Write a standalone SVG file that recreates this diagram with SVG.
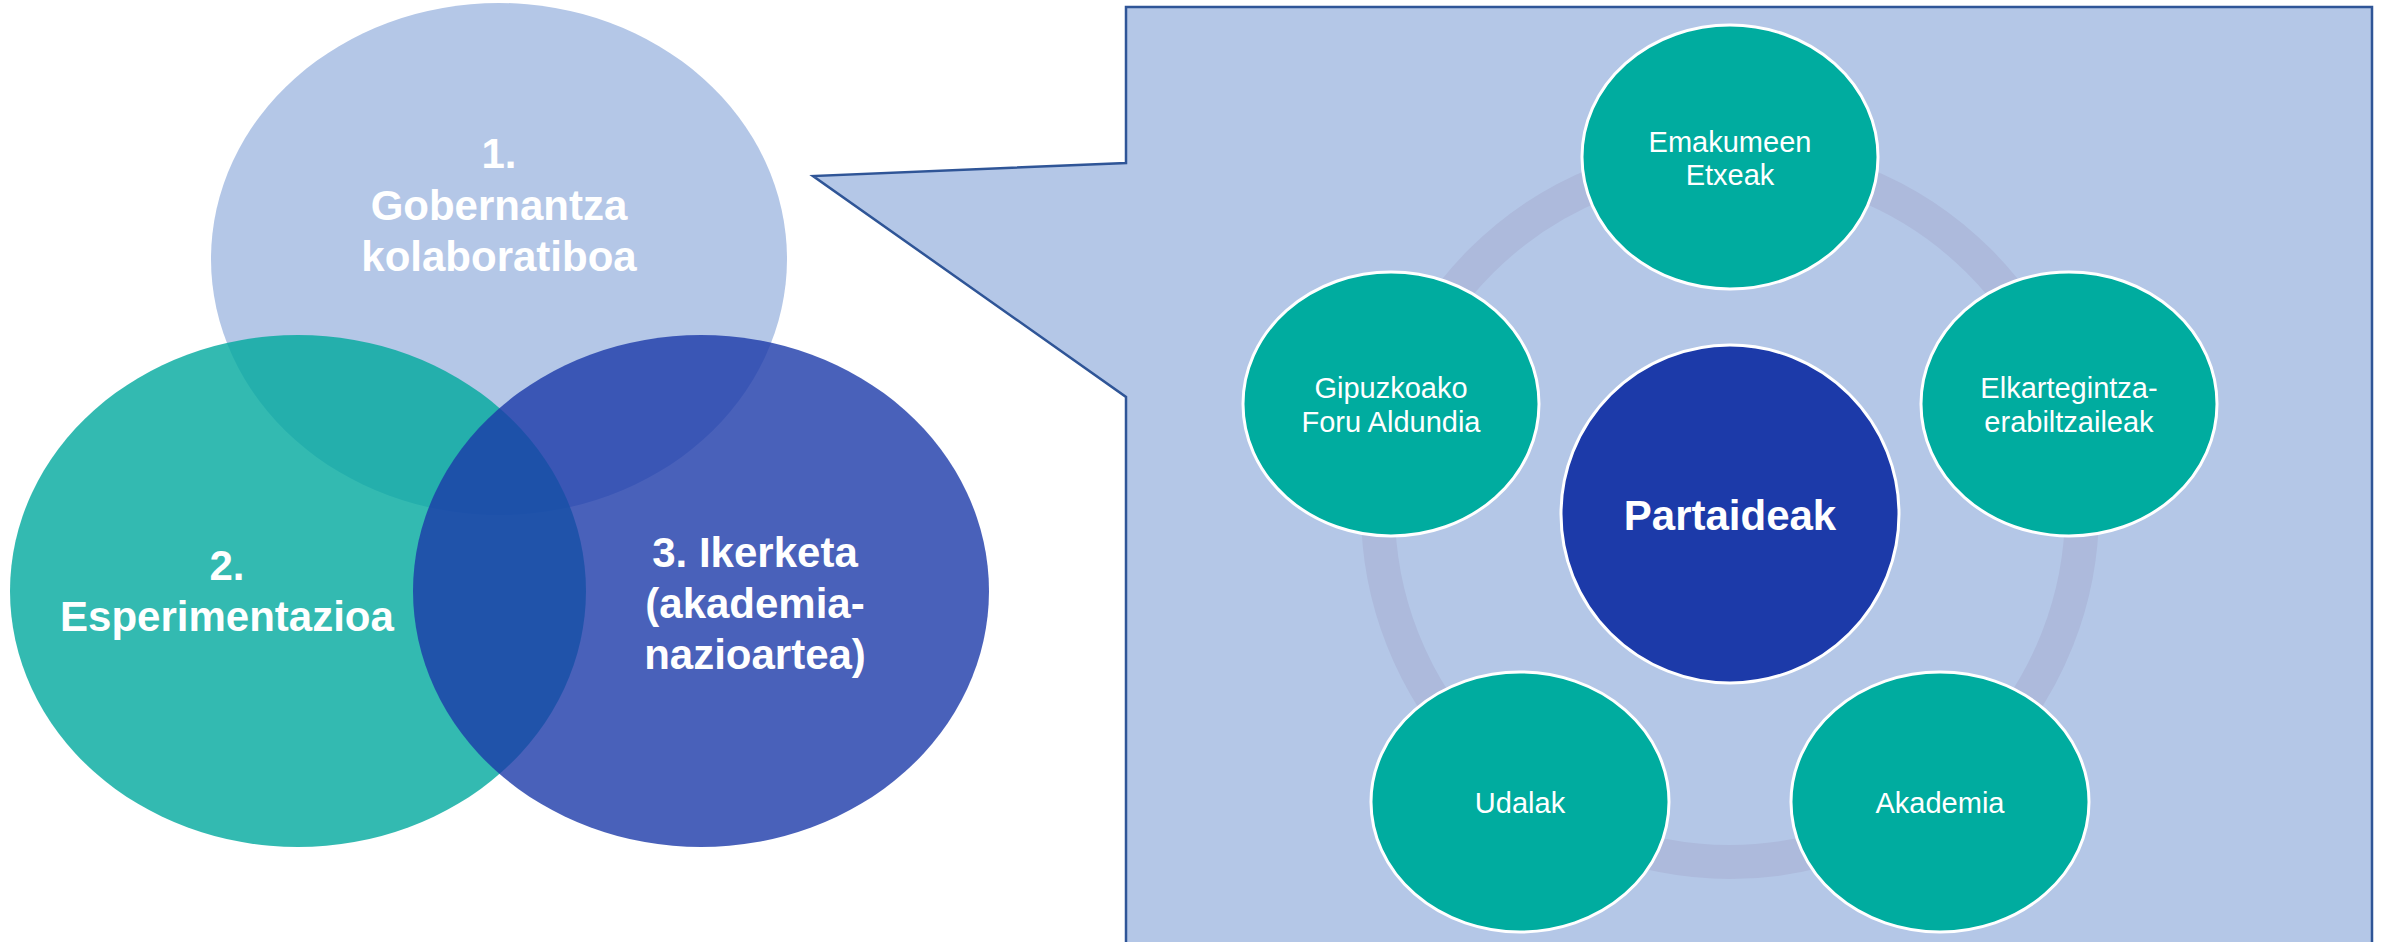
<svg xmlns="http://www.w3.org/2000/svg" width="2384" height="942" viewBox="0 0 2384 942">
<style>
.venn{font-family:"Liberation Sans",Arial,sans-serif;font-weight:bold;font-size:42px;fill:#ffffff;text-anchor:middle}
.sat{fill:#00AC9F;stroke:#ffffff;stroke-width:3}
.satt{font-family:"Liberation Sans",Arial,sans-serif;font-size:29px;fill:#ffffff;text-anchor:middle}
.ctr{font-family:"Liberation Sans",Arial,sans-serif;font-weight:bold;font-size:42px;fill:#ffffff;text-anchor:middle}
</style>
<rect width="2384" height="942" fill="#ffffff"/>
<g id="venn">
  <g id="v1"><ellipse cx="499" cy="259" rx="288" ry="256" fill="#B4C7E7"/></g>
  <g id="v2"><ellipse cx="298" cy="591" rx="288" ry="256" fill="#00A99D" fill-opacity="0.8"/></g>
  <g id="v3"><ellipse cx="701" cy="591" rx="288" ry="256" fill="#1C3AA9" fill-opacity="0.8"/></g>
  <text class="venn"><tspan x="499" y="168">1.</tspan><tspan x="499" y="220">Gobernantza</tspan><tspan x="499" y="271">kolaboratiboa</tspan></text>
  <text class="venn"><tspan x="227" y="580">2.</tspan><tspan x="227" y="631">Esperimentazioa</tspan></text>
  <text class="venn"><tspan x="755" y="567">3. Ikerketa</tspan><tspan x="755" y="618">(akademia-</tspan><tspan x="755" y="669">nazioartea)</tspan></text>
</g>
<g id="callout">
  <path d="M1126,7 H2372 V960 H1126 V397 L813,176 L1126,163 Z" fill="#B4C7E7" stroke="#2F5597" stroke-width="2.5" stroke-linejoin="miter"/>
</g>
<g id="connectors">
  <circle cx="1730" cy="510" r="352" fill="none" stroke="#ADBADC" stroke-width="34"/>
</g>
<g id="center-node">
  <ellipse cx="1730" cy="514" rx="169" ry="169" fill="#1C3AA9" stroke="#ffffff" stroke-width="3"/>
  <text class="ctr" x="1730" y="530">Partaideak</text>
</g>
<g id="node-emakumeen">
  <ellipse class="sat" cx="1730" cy="157" rx="148" ry="132"/>
  <text class="satt"><tspan x="1730" y="152">Emakumeen</tspan><tspan x="1730" y="185">Etxeak</tspan></text>
</g>
<g id="node-elkartegintza">
  <ellipse class="sat" cx="2069" cy="404" rx="148" ry="132"/>
  <text class="satt"><tspan x="2069" y="398">Elkartegintza-</tspan><tspan x="2069" y="432">erabiltzaileak</tspan></text>
</g>
<g id="node-akademia">
  <ellipse class="sat" cx="1940" cy="802" rx="149" ry="130"/>
  <text class="satt" x="1940" y="813">Akademia</text>
</g>
<g id="node-udalak">
  <ellipse class="sat" cx="1520" cy="802" rx="149" ry="130"/>
  <text class="satt" x="1520" y="813">Udalak</text>
</g>
<g id="node-gipuzkoako">
  <ellipse class="sat" cx="1391" cy="404" rx="148" ry="132"/>
  <text class="satt"><tspan x="1391" y="398">Gipuzkoako</tspan><tspan x="1391" y="432">Foru Aldundia</tspan></text>
</g>
</svg>
